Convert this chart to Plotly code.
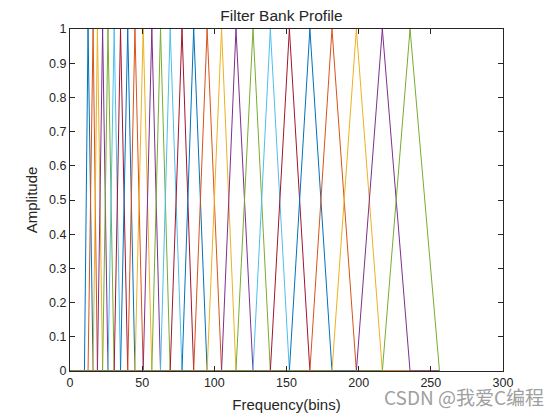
import plotly.graph_objects as go

# Filter edge/center points (bins)
filter_points = [10, 12.5, 16, 19, 22.6, 26.3, 30.6, 35, 40, 45, 50.7, 56.7, 62.7,
                 69.4, 77.6, 85.7, 95, 105, 115, 126.8, 138.8, 152, 166.2, 181.5,
                 198.4, 216.4, 235.6, 256]
x_end = 256
x_ticks = [0, 50, 100, 150, 200, 250, 300]
y_ticks = [0, 0.1, 0.2, 0.3, 0.4, 0.5, 0.6, 0.7, 0.8, 0.9, 1]
y_tick_labels = ["0", "0.1", "0.2", "0.3", "0.4", "0.5", "0.6", "0.7", "0.8", "0.9", "1"]

colors = ["#0072BD", "#D95319", "#EDB120", "#7E2F8E", "#77AC30", "#4DBEEE", "#A2142F"]

fig = go.Figure()
n_filters = len(filter_points) - 2
for m in range(n_filters):
    a, b, c = filter_points[m], filter_points[m + 1], filter_points[m + 2]
    fig.add_trace(go.Scatter(
        x=[0, a, b, c, x_end], y=[0, 0, 1, 0, 0], mode="lines",
        line=dict(color=colors[m % len(colors)], width=1),
        showlegend=False, hoverinfo="skip"))

FONT = "Liberation Sans, Arial"
axis_common = dict(showline=True, linecolor="#262626", linewidth=1, mirror="ticks",
                   ticks="inside", ticklen=5, tickcolor="#262626", showgrid=False,
                   zeroline=False, automargin=False,
                   tickfont=dict(family=FONT, size=12.5, color="#262626"))

# page body has an 8px margin; figure sized so the plot area lands where the reference's does
fig.update_layout(
    width=547, height=409,
    margin=dict(l=62, r=52, t=21, b=46),
    paper_bgcolor="white", plot_bgcolor="white",
    title=dict(text="Filter Bank Profile", x=0.5, xanchor="center", y=1 - 8 / 409, yanchor="middle",
               font=dict(family=FONT, size=15.5, color="#262626")),
    xaxis=dict(range=[0, 300], tickvals=x_ticks,
               title=dict(text="Frequency(bins)", standoff=10,
                          font=dict(family=FONT, size=15, color="#262626")),
               **axis_common),
    yaxis=dict(range=[0, 1], tickvals=y_ticks, ticktext=y_tick_labels,
               title=dict(text="Amplitude", standoff=7,
                          font=dict(family=FONT, size=15, color="#262626")),
               **axis_common),
    annotations=[dict(text="CSDN @我爱C编程", xref="paper", yref="paper",
                      x=1 + 43 / 433, y=-25 / 342, xanchor="right", yanchor="middle", showarrow=False,
                      font=dict(family="Noto Sans CJK SC", size=19, color="#a0a0a0"))],
)

fig.write_html("out.html")
